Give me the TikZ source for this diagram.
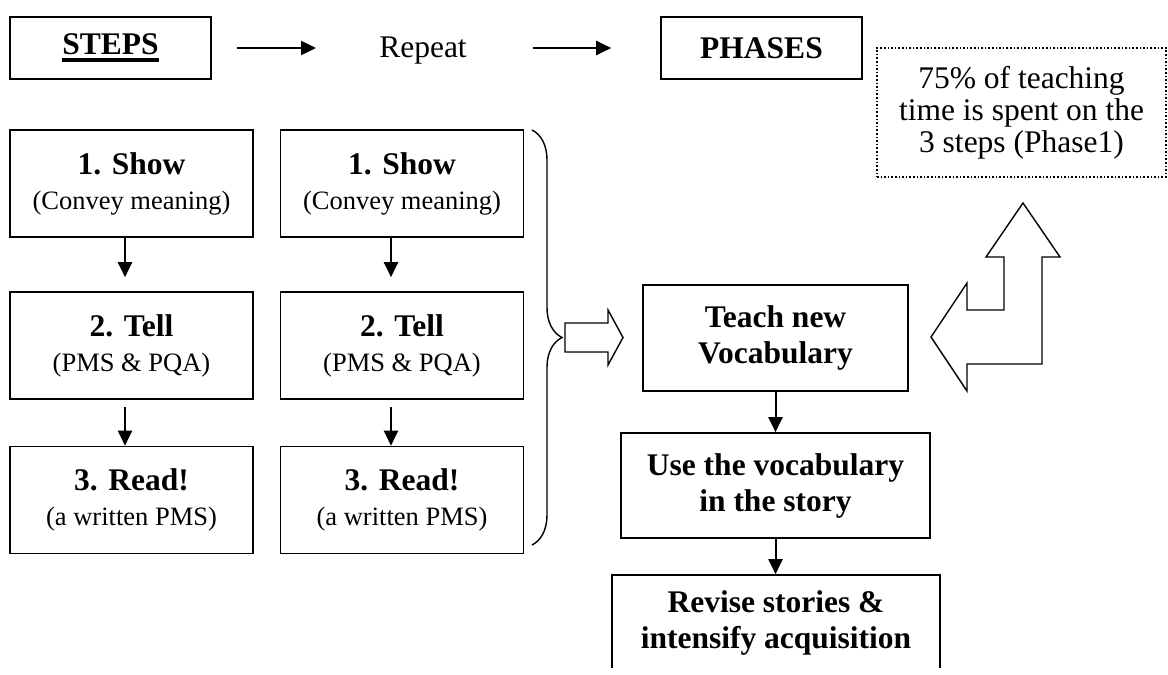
\documentclass[tikz,border=0pt]{standalone}
\usepackage{fontspec}
\setmainfont{Liberation Serif}
\usepackage{tikz}
\usetikzlibrary{arrows.meta,decorations.pathreplacing}
\def\steptext#1#2{{\bfseries #1}\\{\fontsize{26.5}{30}\selectfont #2}}
\newcommand\thickul[1]{\setbox0=\hbox{#1}\rlap{\rule[-7pt]{\wd0}{4pt}}\box0}

\begin{document}
\begin{tikzpicture}[x=1pt, y=-1pt,
		box/.style={draw, line width=1.6pt, align=center, inner sep=0pt, font=\fontsize{31.5}{35}\selectfont},
		boldbox/.style={box, font=\fontsize{31.5}{36}\selectfont\bfseries},
		stepbox/.style={box, minimum width=243pt, minimum height=107pt},
		flow/.style={-{Triangle[length=15pt,width=14pt]}, line width=2pt}]
		%%%%% START %%%%%
		\useasboundingbox (0,0) rectangle (1168,675);
		
		\node[boldbox, minimum width=201pt, minimum height=62pt] (steps) at (110.5,48) {\thickul{STEPS}};
		\node[font=\fontsize{31.5}{35}\selectfont, inner sep=0pt] (repeat) at (423,51) {Repeat};
		\node[boldbox, minimum width=201pt, minimum height=62pt] (phases) at (761.5,48) {PHASES};
		\draw[flow, shorten <=25pt, shorten >=63pt] (steps.east) -- (repeat.west |- steps.east);
		\draw[flow, shorten <=66pt, shorten >=49pt] (repeat.east |- steps.east) -- (phases.west);
		
		\node[box, dotted, minimum width=289pt, minimum height=129pt, font=\fontsize{31.5}{32}\selectfont] (note) at (1021.5,112.5) {75\% of teaching\\time is spent on the\\3 steps (Phase1)};
		
		\node[stepbox] (showA) at (131.5,183.5) {\steptext{1. Show}{(Convey meaning)}};
		\node[stepbox] (tellA) at (131.5,345.5) {\steptext{2. Tell}{(PMS \& PQA)}};
		\node[stepbox] (readA) at (131.5,500) {\steptext{3. Read!}{(a written PMS)}};
		\draw[flow, shorten >=14pt] ([xshift=-6.5pt]showA.south) -- ([xshift=-6.5pt]tellA.north);
		\draw[flow, shorten <=7pt] ([xshift=-6.5pt]tellA.south) -- ([xshift=-6.5pt]readA.north);
		
		\node[stepbox] (showB) at (402,183.5) {\steptext{1. Show}{(Convey meaning)}};
		\node[stepbox] (tellB) at (402,345.5) {\steptext{2. Tell}{(PMS \& PQA)}};
		\node[stepbox] (readB) at (402,500) {\steptext{3. Read!}{(a written PMS)}};
		\draw[flow, shorten >=14pt] ([xshift=-11pt]showB.south) -- ([xshift=-11pt]tellB.north);
		\draw[flow, shorten <=7pt] ([xshift=-11pt]tellB.south) -- ([xshift=-11pt]readB.north);
		
		\draw[line width=1.4pt, decorate, decoration={brace, amplitude=30pt}] (532,130) -- (532,545);
		\draw[line width=1.4pt, fill=white] (565,323) -- (608,323) -- (608,310) -- (623,337.5) -- (608,365) -- (608,352) -- (565,352) -- cycle;
		
		\node[boldbox, minimum width=265pt, minimum height=106pt] (teach) at (775.5,338) {Teach new\\Vocabulary};
		\node[boldbox, minimum width=309pt, minimum height=105pt] (use) at (775.5,485.5) {Use the vocabulary\\in the story};
		\begin{scope}
			\clip (0,0) rectangle (1168,667);
			\node[boldbox, minimum width=328pt, minimum height=96pt] (revise) at (776,623) {Revise stories \&\\intensify acquisition};
		\end{scope}
		\draw[flow] (teach) -- (use);
		\draw[flow] (use.south) -- (use.south |- revise.north);
		
		\draw[line width=1.4pt, fill=white] (1023,203) -- (1060,257) -- (1042,257) -- (1042,364) -- (967,364) -- (967,391) -- (931,337) -- (967,283) -- (967,310) -- (1004,310) -- (1004,257) -- (986,257) -- cycle;
		
		%%%%% END %%%%%
\end{tikzpicture}
\end{document}
